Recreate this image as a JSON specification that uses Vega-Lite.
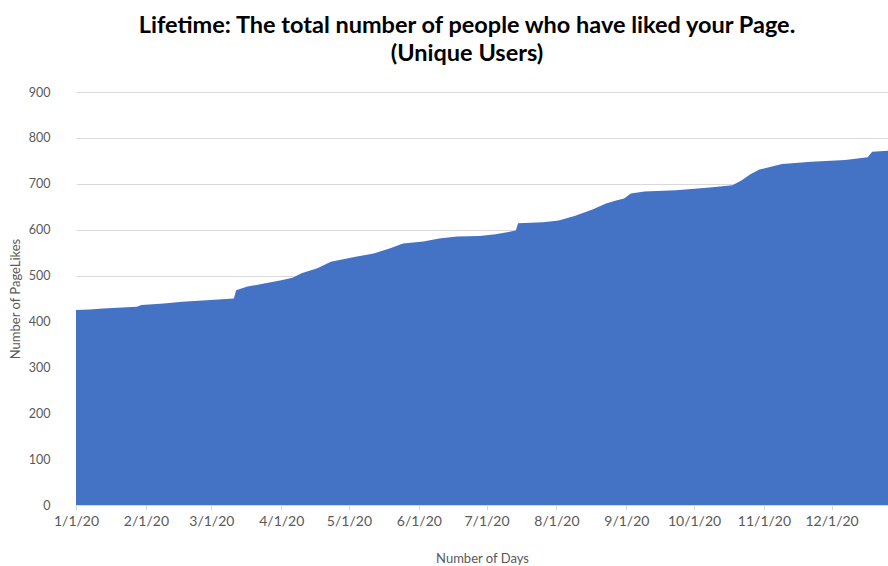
{
  "$schema": "https://vega.github.io/schema/vega-lite/v6.json",
  "width": 812,
  "height": 413,
  "autosize": {"type": "none"},
  "padding": {"left": 76, "top": 92, "right": 0, "bottom": 61},
  "background": "white",
  "title": {
    "text": ["Lifetime: The total number of people who have liked your Page.", "(Unique Users)"],
    "font": "Lato",
    "fontSize": 23.5,
    "fontWeight": "bold",
    "color": "#000000",
    "anchor": "middle",
    "dx": -15,
    "offset": 21,
    "lineHeight": 28
  },
  "data": {
    "values": [
      {"date": "2020-01-01", "likes": 425},
      {"date": "2020-01-07", "likes": 426},
      {"date": "2020-01-13", "likes": 428},
      {"date": "2020-01-28", "likes": 432},
      {"date": "2020-01-30", "likes": 436},
      {"date": "2020-02-09", "likes": 439},
      {"date": "2020-02-17", "likes": 443},
      {"date": "2020-02-28", "likes": 446},
      {"date": "2020-03-11", "likes": 450},
      {"date": "2020-03-12", "likes": 468},
      {"date": "2020-03-17", "likes": 476},
      {"date": "2020-03-25", "likes": 483},
      {"date": "2020-04-01", "likes": 490},
      {"date": "2020-04-06", "likes": 495},
      {"date": "2020-04-10", "likes": 505},
      {"date": "2020-04-17", "likes": 516},
      {"date": "2020-04-23", "likes": 530},
      {"date": "2020-04-29", "likes": 536},
      {"date": "2020-05-04", "likes": 541},
      {"date": "2020-05-12", "likes": 548},
      {"date": "2020-05-19", "likes": 559},
      {"date": "2020-05-25", "likes": 570},
      {"date": "2020-06-03", "likes": 574},
      {"date": "2020-06-10", "likes": 581},
      {"date": "2020-06-18", "likes": 585},
      {"date": "2020-06-28", "likes": 586},
      {"date": "2020-07-05", "likes": 590},
      {"date": "2020-07-14", "likes": 598},
      {"date": "2020-07-15", "likes": 614},
      {"date": "2020-07-26", "likes": 616},
      {"date": "2020-08-02", "likes": 620},
      {"date": "2020-08-09", "likes": 630},
      {"date": "2020-08-17", "likes": 644},
      {"date": "2020-08-23", "likes": 657},
      {"date": "2020-08-27", "likes": 663},
      {"date": "2020-08-31", "likes": 668},
      {"date": "2020-09-03", "likes": 679},
      {"date": "2020-09-09", "likes": 683},
      {"date": "2020-09-23", "likes": 686},
      {"date": "2020-10-08", "likes": 692},
      {"date": "2020-10-18", "likes": 697},
      {"date": "2020-10-22", "likes": 707},
      {"date": "2020-10-26", "likes": 721},
      {"date": "2020-10-30", "likes": 731},
      {"date": "2020-11-09", "likes": 743},
      {"date": "2020-11-22", "likes": 748},
      {"date": "2020-12-07", "likes": 752},
      {"date": "2020-12-17", "likes": 758},
      {"date": "2020-12-19", "likes": 770},
      {"date": "2020-12-26", "likes": 772}
    ]
  },
  "mark": {"type": "area", "color": "#4472C4", "interpolate": "linear", "clip": true},
  "encoding": {
    "x": {
      "field": "date",
      "type": "temporal",
      "scale": {
        "type": "utc",
        "domain": [
          {"year": 2020, "month": "jan", "date": 1, "utc": true},
          {"year": 2020, "month": "dec", "date": 26, "utc": true}
        ],
        "nice": false
      },
      "axis": {
        "title": "Number of Days",
        "labelExpr": "utcFormat(datum.value, '%-m/%-d/%y')",
        "tickCount": {"interval": "month", "step": 1},
        "grid": false,
        "domain": true,
        "domainColor": "#d9d9d9",
        "ticks": true,
        "tickColor": "#d9d9d9",
        "tickSize": 5,
        "labelFont": "Lato",
        "labelFontSize": 14,
        "labelColor": "#595959",
        "labelPadding": 4,
        "labelAngle": 0,
        "labelFlush": false,
        "labelOverlap": false,
        "titleFont": "Lato",
        "titleFontSize": 13,
        "titleFontWeight": "normal",
        "titleColor": "#595959",
        "titlePadding": 24
      }
    },
    "y": {
      "field": "likes",
      "type": "quantitative",
      "scale": {"domain": [0, 900], "nice": false},
      "axis": {
        "title": "Number of PageLikes",
        "values": [0, 100, 200, 300, 400, 500, 600, 700, 800, 900],
        "grid": true,
        "gridColor": "#d9d9d9",
        "domain": false,
        "ticks": false,
        "labelFont": "Lato",
        "labelFontSize": 12.5,
        "labelColor": "#595959",
        "labelPadding": 26,
        "titleFont": "Lato",
        "titleFontSize": 13,
        "titleFontWeight": "normal",
        "titleColor": "#595959",
        "titlePadding": 6
      }
    }
  },
  "config": {"view": {"stroke": null}}
}
